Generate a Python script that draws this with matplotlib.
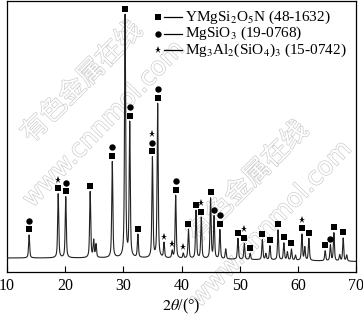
import numpy as np
import matplotlib.pyplot as plt
from matplotlib import patheffects
from matplotlib.patches import Rectangle

plt.rcParams['font.family'] = ['Liberation Serif', 'DejaVu Serif']
plt.rcParams['mathtext.fontset'] = 'stix'

#Diffraction peaks: 2theta (deg), height above background (counts), phase marks
peak_pos = [13.8, 18.8, 20.1, 24.3, 24.9, 25.3, 28.1, 30.3, 31.1, 32.5,
            35.0, 35.9, 37.0, 38.4, 39.0, 40.3, 41.2, 42.5, 43.4, 45.0,
            45.6, 46.6, 47.6, 49.7, 50.8, 51.8, 53.9, 54.5, 55.2, 56.6,
            57.6, 58.2, 58.9, 59.6, 60.7, 61.2, 61.9, 64.7, 65.6, 66.2,
            67.2, 67.8, 68.4]
peak_int = [230, 640, 610, 660, 170, 130, 960, 2420, 1340, 230,
            1000, 1540, 150, 70, 630, 50, 290, 480, 410, 600,
            420, 290, 100, 210, 160, 60, 200, 60, 140, 300,
            170, 80, 110, 50, 260, 130, 220, 100, 160, 280,
            60, 230, 60]
peak_mark = ['so', 's*', 'so', 's', '', '', 'so', 's', 'so', 's',
             'so*', 'so', '*', '*', 'so', '*', 's', 's', 's*', 's',
             'o', 'so', '', 's', 's*', 's', 's', '', 's', 's',
             's', '', 's', '', 's*', '', 's', 's', 'o', 's',
             '', 's', '']

#Background level along the scan
bg_pos = [10, 30, 45, 70]
bg_int = [140, 140, 130, 105]

legend_labels = [r'YMgSi$_2$O$_5$N (48-1632)',
                 r'MgSiO$_3$ (19-0768)',
                 r'Mg$_3$Al$_2$(SiO$_4$)$_3$ (15-0742)']
xticks = [10, 20, 30, 40, 50, 60, 70]

#Build the scan
tt = np.linspace(10, 70, 6001)
counts = np.interp(tt, bg_pos, bg_int)
w = 0.11
for p, h in zip(peak_pos, peak_int):
    d = tt - p
    counts += h * (0.6 * w**2 / (w**2 + d**2) + 0.4 * np.exp(-np.log(2) * (d / w)**2))

fig = plt.figure(figsize=(3.63, 3.17), dpi=100)
ax = fig.add_axes([7/363, 45/317, 349/363, 271/317])

ax.plot(tt, counts, color='#222222', lw=0.8, zorder=3)

#Phase symbols stacked above the peaks
sym = {'s': ('s', 4.8), 'o': ('o', 4.6), '*': ('*', 5.2)}
for p, m in zip(peak_pos, peak_mark):
    y = np.interp(p, tt, counts) + 55
    for k in m:
        ax.plot(p, y, marker=sym[k][0], ms=sym[k][1], color='black', mew=0, zorder=4)
        y += 85

#Legend drawn by hand on a white patch: symbol, short line, text
ax.add_patch(Rectangle(((186 - 7) / 349, (272 - 60) / 271), 168 / 349, 57 / 271,
                       transform=ax.transAxes, facecolor='white', edgecolor='none', zorder=2))
for i, (k, lab) in enumerate(zip('so*', legend_labels)):
    yy = (272 - (17 + 16.5 * i)) / 271
    ax.plot((158 - 7) / 349, yy, marker=sym[k][0], ms=sym[k][1], color='black',
            mew=0, transform=ax.transAxes, clip_on=False, zorder=5)
    ax.plot([(164 - 7) / 349, (182 - 7) / 349], [yy, yy], color='black', lw=0.9,
            transform=ax.transAxes, zorder=5)
    ax.text((185 - 7) / 349, yy, lab, fontsize=11, va='center', ha='left',
            transform=ax.transAxes, zorder=5)

ax.set_xlim(10, 70)
ax.set_ylim(0, 2710)
ax.set_xticks(xticks)
ax.set_xticklabels([str(t) for t in xticks], fontsize=11.5)
ax.set_yticks([])
ax.tick_params(axis='x', direction='in', length=4, width=0.8, pad=4)
for s in ax.spines.values():
    s.set_linewidth(0.9)
ax.set_xlabel(r'$2\theta$/(°)', fontsize=11.5, labelpad=2)

#Site watermark (hollow grey letters), kept under the legend patch
pe = [patheffects.withStroke(linewidth=1.0, foreground='#cdcdcd')]
for cx, cy in [(82, 82), (248, 182)]:
    ax.text(cx / 363, 1 - cy / 317, '有色金属在线', fontsize=19, rotation=45,
            family=['Noto Sans CJK SC'], color='white', ha='center', va='center',
            path_effects=pe, transform=fig.transFigure, zorder=1)
for cx, cy in [(104, 124), (271, 224)]:
    ax.text(cx / 363, 1 - cy / 317, 'www.cnnmol.com', fontsize=18, rotation=46,
            family=['DejaVu Sans'], color='white', ha='center', va='center',
            path_effects=pe, transform=fig.transFigure, zorder=1)

fig.savefig('out.png', dpi=100)
